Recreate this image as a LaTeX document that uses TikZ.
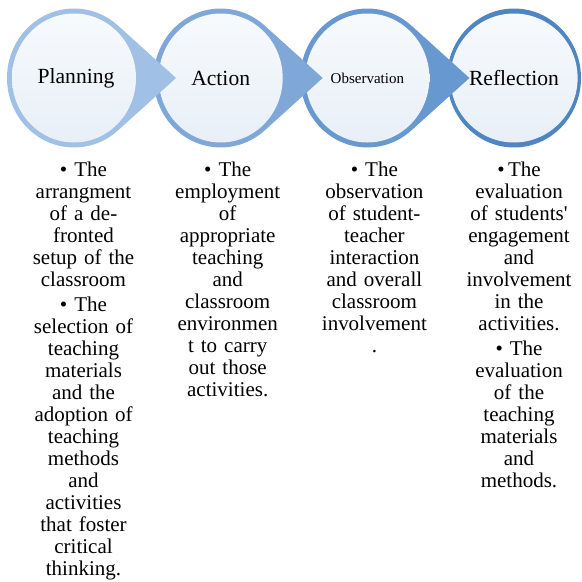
\documentclass[tikz,border=0pt]{standalone}
\usepackage{fontspec}
\setmainfont{Liberation Serif}
\usepackage{tikz}
\usetikzlibrary{shapes.geometric, positioning}

\definecolor{ringone}{RGB}{160,192,230}
\definecolor{ringtwo}{RGB}{127,168,216}
\definecolor{ringthree}{RGB}{103,152,207}
\definecolor{ringfour}{RGB}{78,133,195}
\definecolor{facetop}{RGB}{247,250,253}
\definecolor{facebottom}{RGB}{232,239,247}

\tikzstyle{stage} = [ellipse, minimum width=124pt, minimum height=129pt, inner sep=0pt, top color=facetop, bottom color=facebottom, font=\fontsize{21.6}{24}\selectfont]
\tikzstyle{notes} = [anchor=north, align=center, text width=125pt, inner sep=0pt, font=\fontsize{21}{22}\selectfont]

% ring with its pointer, sits behind a stage
\newcommand{\teardrop}[2]{%
  \fill[#2, shift={(#1)}, yscale=1.037] (102pt,0) -- (48.94:67pt) arc[start angle=48.94, end angle=311.06, radius=67pt] -- cycle;}

\begin{document}
\begin{tikzpicture}
\useasboundingbox (0,0) rectangle (582pt,-582pt);
\coordinate (c1) at (74pt,-78pt);
\coordinate (c2) at (220.7pt,-78pt);
\coordinate (c3) at (367.4pt,-78pt);
\coordinate (c4) at (514pt,-78pt);

% right to left, so each pointer lies over the next ring
\fill[ringfour, shift={(c4)}, yscale=1.037] (0,0) circle (67pt);
\node (reflection) [stage] at (c4) {Reflection};
\teardrop{c3}{ringthree}
\node (observation) [stage, font=\fontsize{15}{18}\selectfont] at (c3) {Observation};
\teardrop{c2}{ringtwo}
\node (action) [stage] at (c2) {Action};
\teardrop{c1}{ringone}
\node (planning) [stage] at (c1) {\hspace{4pt}Planning};

\node (planningnotes) [notes, below=84pt of planning.center, xshift=9.5pt] {\textbullet\ The\\ arrangment\\ of a de-\\ fronted\\ setup of the\\ classroom\\[3pt] \textbullet\ The\\ selection of\\ teaching\\ materials\\ and the\\ adoption of\\ teaching\\ methods\\ and\\ activities\\ that foster\\ critical\\ thinking.};
\node (actionnotes) [notes, below=84pt of action.center, xshift=7pt] {\textbullet\ The\\ employment\\ of\\ appropriate\\ teaching\\ and\\ classroom\\ environmen\\ t to carry\\ out those\\ activities.};
\node (observationnotes) [notes, below=84pt of observation.center, xshift=7pt] {\textbullet\ The\\ observation\\ of student-\\ teacher\\ interaction\\ and overall\\ classroom\\ involvement\\ .};
\node (reflectionnotes) [notes, below=84pt of reflection.center, xshift=5pt] {\textbullet\,The\\ evaluation\\ of students\textquotesingle\\ engagement\\ and\\ involvement\\ in the\\ activities.\\[3pt] \textbullet\ The\\ evaluation\\ of the\\ teaching\\ materials\\ and\\ methods.};
\end{tikzpicture}
\end{document}
